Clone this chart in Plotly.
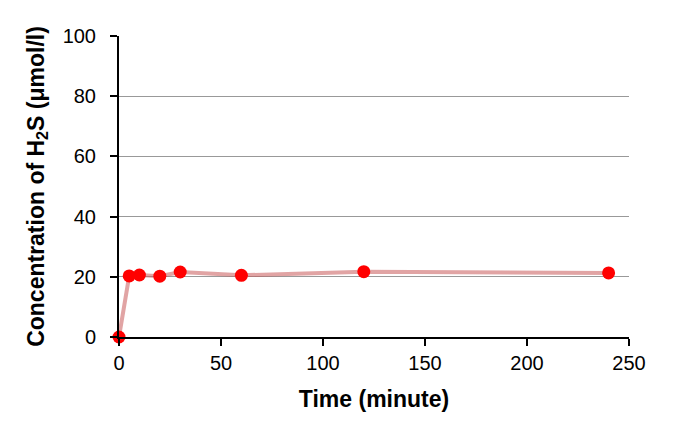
import plotly.graph_objects as go

time_min = [0, 5, 10, 20, 30, 60, 120, 240]
h2s_conc = [0, 20.3, 20.6, 20.2, 21.6, 20.5, 21.7, 21.3]
x_ticks = [0, 50, 100, 150, 200, 250]
y_ticks = [0, 20, 40, 60, 80, 100]

fig = go.Figure()
fig.add_trace(go.Scatter(
    x=time_min, y=h2s_conc, mode="lines",
    line=dict(color="rgba(200,90,90,0.55)", width=4),
    hoverinfo="skip", showlegend=False, cliponaxis=False))
fig.add_trace(go.Scatter(
    x=time_min, y=h2s_conc, mode="markers",
    marker=dict(color="#ff0000", size=13),
    showlegend=False, cliponaxis=False))

fig.update_layout(
    width=677, height=443,
    margin=dict(l=111, r=56, t=28, b=114),
    paper_bgcolor="white", plot_bgcolor="white",
    font=dict(family="Arial, Liberation Sans, sans-serif", size=20, color="#000"),
    xaxis=dict(
        range=[0, 250], tickvals=x_ticks, showgrid=False, zeroline=False,
        showline=True, linecolor="black", linewidth=2, automargin=False,
        ticks="outside", ticklen=7, tickwidth=2, tickcolor="black",
        title=dict(text="<b>Time (minute)</b>", font=dict(size=23), standoff=18),
    ),
    yaxis=dict(
        range=[0, 100], tickvals=y_ticks, showgrid=True, gridcolor="#999999", gridwidth=1,
        zeroline=False, showline=True, linecolor="black", linewidth=2, automargin=False,
        ticks="outside", ticklen=7, tickwidth=2, tickcolor="black", ticklabelstandoff=10,
        title=dict(text="<b>Concentration of H<sub>2</sub>S (μmol/l)</b>", font=dict(size=23), standoff=12),
    ),
)
fig.write_html("out.html")
